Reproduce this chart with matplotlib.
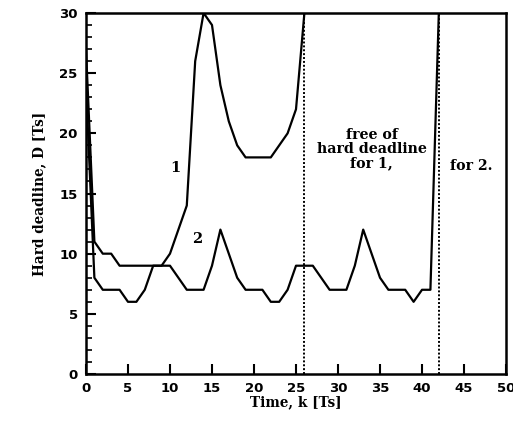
import matplotlib
matplotlib.use("Agg")
import matplotlib.pyplot as plt
from matplotlib.ticker import MultipleLocator

# hard deadline of the two tasks, sampled each period
k1 = list(range(0, 27))
d1 = [27, 11, 10, 10, 9, 9, 9, 9, 9, 9, 10, 12, 14, 26, 30, 29, 24, 21, 19, 18,
      18, 18, 18, 19, 20, 22, 30]

k2 = list(range(0, 43))
d2 = [24, 8, 7, 7, 7, 6, 6, 7, 9, 9, 9, 8, 7, 7, 7, 9, 12, 10, 8, 7,
      7, 7, 6, 6, 7, 9, 9, 9, 8, 7, 7, 7, 9, 12, 10, 8, 7, 7, 7, 6,
      7, 7, 30]

free_at = [26, 42]  # hard deadline disappears here (task 1, task 2)

xticks = [0, 5, 10, 15, 20, 25, 30, 35, 40, 45, 50]
yticks = [0, 5, 10, 15, 20, 25, 30]

serif = "DejaVu Serif"

fig = plt.figure(figsize=(5.13, 4.23), dpi=100)
ax = fig.add_axes([0.1676, 0.1158, 0.8188, 0.8535])

ax.plot(k1, d1, color="black", lw=1.6)
ax.plot(k2, d2, color="black", lw=1.6)
for x in free_at:
    ax.plot([x, x], [0, 30], color="black", lw=1.4, ls=(0, (1, 1)))

ax.set_xlim(0, 50)
ax.set_ylim(0, 30)
ax.set_xticks(xticks)
ax.set_yticks(yticks)
ax.yaxis.set_minor_locator(MultipleLocator(1))
ax.tick_params(direction="in", length=7, width=1.5, labelsize=9.5, pad=6)
ax.tick_params(which="minor", direction="in", length=4, width=1.2)
for lab in ax.get_xticklabels() + ax.get_yticklabels():
    lab.set_fontweight("bold")
for s in ax.spines.values():
    s.set_linewidth(1.8)

ax.set_xlabel("Time, k [Ts]", family=serif, fontweight="bold", fontsize=9.8, labelpad=0)
ax.set_ylabel("Hard deadline, D [Ts]", family=serif, fontweight="bold", fontsize=9.8, labelpad=9)

ax.text(10.6, 17.1, "1", family=serif, fontweight="bold", fontsize=10.5, ha="center", va="center")
ax.text(13.2, 11.2, "2", family=serif, fontweight="bold", fontsize=10.5, ha="center", va="center")
ax.text(34.0, 18.7, "free of\nhard deadline\nfor 1,", family=serif, fontweight="bold",
        fontsize=10.2, ha="center", va="center", linespacing=1.0)
ax.text(45.9, 17.3, "for 2.", family=serif, fontweight="bold", fontsize=10.2,
        ha="center", va="center")

fig.savefig("out.png", dpi=100)
